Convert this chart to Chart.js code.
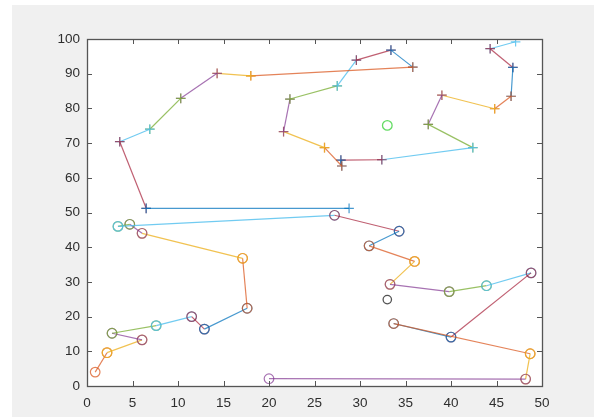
<!DOCTYPE html>
<html><head><meta charset="utf-8">
<script src="https://cdn.jsdelivr.net/npm/chart.js@4/dist/chart.umd.min.js"></script>
<style>
html,body{margin:0;padding:0;background:#fff;width:594px;height:417px;overflow:hidden}
#bg{position:absolute;left:12px;top:5px;width:582px;height:412px;background:#f0f0f0}
#wrap{position:absolute;left:0;top:0;width:594px;height:417px}
</style></head><body>
<div id="bg"></div>
<div id="wrap"><canvas id="c" width="594" height="417"></canvas></div>
<script>
// Route through the lower customers ('o' markers), in drawing order
const circleRouteX = [0.9, 2.2, 6.05, 2.75, 7.6, 11.5, 12.9, 17.6, 17.1, 6.05, 4.7, 3.4, 27.2, 34.3, 31.0, 36.0, 33.3, 39.8, 43.9, 48.8, 40.0, 33.7, 48.7, 48.2, 20.0];
const circleRouteY = [4.0, 9.6, 13.3, 15.2, 17.4, 20.0, 16.4, 22.4, 36.8, 44.0, 46.6, 46.0, 49.2, 44.6, 40.4, 35.9, 29.3, 27.2, 28.9, 32.6, 14.1, 18.0, 9.3, 2.0, 2.1];
// Route through the upper customers ('+' markers), in drawing order
const plusRouteX = [47.1, 44.3, 46.8, 46.6, 44.8, 39.0, 37.5, 42.4, 32.4, 27.9, 28.0, 26.1, 21.6, 22.3, 27.5, 29.6, 33.4, 35.8, 18.0, 14.3, 10.3, 6.9, 3.6, 6.5, 28.8];
const plusRouteY = [99.2, 97.2, 91.8, 83.5, 79.9, 83.8, 75.4, 68.7, 65.2, 65.1, 63.4, 68.7, 73.3, 82.7, 86.5, 93.9, 96.8, 91.9, 89.4, 90.1, 82.9, 74.0, 70.4, 51.2, 51.2];
// Centres
const upperCentreX = [33.0];
const upperCentreY = [75.1];
const lowerCentreX = [33.0];
const lowerCentreY = [24.9];
// Axis ticks
const xTickValues = [0, 5, 10, 15, 20, 25, 30, 35, 40, 45, 50];
const yTickValues = [0, 10, 20, 30, 40, 50, 60, 70, 80, 90, 100];

const colorOrder = ['rgba(0,114,189,0.72)', 'rgba(217,83,25,0.72)', 'rgba(237,177,32,0.78)', 'rgba(126,47,142,0.68)', 'rgba(119,172,48,0.75)', 'rgba(77,190,238,0.8)', 'rgba(162,20,47,0.68)'];
let colorIdx = 1;
let drawIdx = 0;
const datasets = [];
function addSegments(xs, ys, style, radius) {
  for (let i = 0; i < xs.length - 1; i++) {
    const c = colorOrder[colorIdx % colorOrder.length];
    colorIdx++;
    datasets.push({
      data: [{x: xs[i], y: ys[i]}, {x: xs[i + 1], y: ys[i + 1]}],
      showLine: true, borderColor: c, borderWidth: 1.2,
      pointStyle: style, pointRadius: radius, pointBorderColor: c,
      pointBackgroundColor: 'rgba(0,0,0,0)', pointBorderWidth: 1.2,
      order: -(drawIdx++)
    });
  }
}
function addPoints(xs, ys, c, style, radius) {
  datasets.push({
    data: xs.map((x, i) => ({x: x, y: ys[i]})),
    showLine: false, borderColor: c, pointStyle: style, pointRadius: radius,
    pointBorderColor: c, pointBackgroundColor: 'rgba(0,0,0,0)', pointBorderWidth: 1.3,
    order: -(drawIdx++)
  });
}
addPoints(lowerCentreX, lowerCentreY, 'rgba(40,40,40,0.8)', 'circle', 4.2);
addSegments(circleRouteX, circleRouteY, 'circle', 4.8);
addPoints(upperCentreX, upperCentreY, 'rgba(60,210,60,0.8)', 'circle', 4.8);
colorIdx++;
addSegments(plusRouteX, plusRouteY, 'cross', 4.8);

const frame = {
  id: 'frame',
  beforeDraw(chart) {
    const {ctx, chartArea: a} = chart;
    ctx.save();
    ctx.fillStyle = '#ffffff';
    ctx.fillRect(a.left, a.top, a.right - a.left, a.bottom - a.top);
    ctx.restore();
  },
  afterDatasetsDraw(chart) {
    const {ctx, chartArea: a, scales} = chart;
    ctx.save();
    ctx.strokeStyle = '#555555';
    ctx.lineWidth = 1;
    const tl = 5;
    ctx.beginPath();
    xTickValues.forEach(v => {
      const px = Math.round(scales.x.getPixelForValue(v)) + 0.5;
      ctx.moveTo(px, a.bottom); ctx.lineTo(px, a.bottom - tl);
      ctx.moveTo(px, a.top); ctx.lineTo(px, a.top + tl);
    });
    yTickValues.forEach(v => {
      const py = Math.round(scales.y.getPixelForValue(v)) + 0.5;
      ctx.moveTo(a.left, py); ctx.lineTo(a.left + tl, py);
      ctx.moveTo(a.right, py); ctx.lineTo(a.right - tl, py);
    });
    ctx.stroke();
    ctx.lineWidth = 1.3;
    ctx.strokeRect(Math.round(a.left) + 0.5, Math.round(a.top) + 0.5, Math.round(a.right - a.left), Math.round(a.bottom - a.top));
    ctx.restore();
  }
};

const tickFont = {family: "'Liberation Sans', Arial, sans-serif", size: 13.5};
new Chart(document.getElementById('c'), {
  type: 'scatter',
  data: {datasets: datasets},
  options: {
    responsive: false, animation: false, devicePixelRatio: 1,
    layout: {padding: {left: 0, top: 39, right: 52, bottom: 0}},
    plugins: {legend: {display: false}, tooltip: {enabled: false}},
    scales: {
      x: {
        type: 'linear', min: 0, max: 50,
        afterBuildTicks: s => { s.ticks = xTickValues.map(v => ({value: v})); },
        afterFit: s => { s.height = 31; },
        grid: {display: false, drawTicks: false}, border: {display: false},
        ticks: {font: tickFont, color: '#2e2e2e', padding: 9, maxRotation: 0, autoSkip: false}
      },
      y: {
        type: 'linear', min: 0, max: 100,
        afterBuildTicks: s => { s.ticks = yTickValues.map(v => ({value: v})); },
        afterFit: s => { s.width = 87; },
        grid: {display: false, drawTicks: false}, border: {display: false},
        ticks: {font: tickFont, color: '#2e2e2e', padding: 7, autoSkip: false}
      }
    }
  },
  plugins: [frame]
});
</script>
</body></html>
